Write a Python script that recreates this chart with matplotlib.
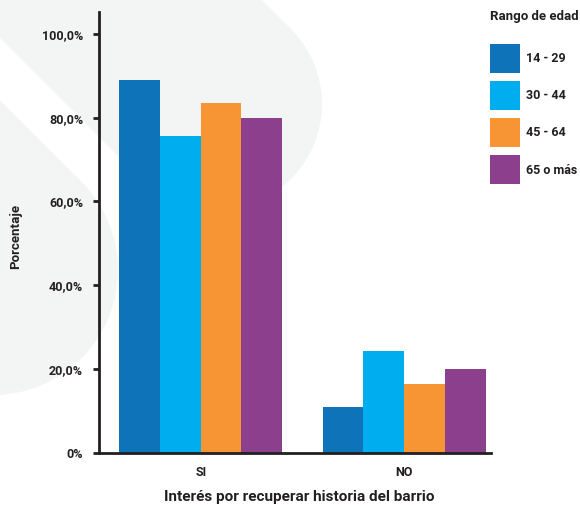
import matplotlib
matplotlib.use("Agg")
import matplotlib.pyplot as plt
import numpy as np
from matplotlib.patches import Polygon, Circle
from matplotlib.ticker import FuncFormatter

plt.rcParams['font.family'] = ['Roboto', 'DejaVu Sans']
plt.rcParams['font.weight'] = 'bold'

# datos
categorias = ["SI", "NO"]
rangos = ["14 - 29", "30 - 44", "45 - 64", "65 o más"]
v_14_29 = [89.0, 11.0]
v_30_44 = [75.7, 24.3]
v_45_64 = [83.6, 16.4]
v_65_mas = [80.0, 20.0]
colores = ["#0f73ba", "#00aeef", "#f79433", "#8b3f8c"]

series = [v_14_29, v_30_44, v_45_64, v_65_mas]
texto = "#231f20"

fig = plt.figure(figsize=(5.8, 5.05), dpi=100)

# fondo decorativo (dos bandas grises diagonales con punta redondeada)
bg = fig.add_axes([0, 0, 1, 1], zorder=-1)
bg.set_xlim(0, 580)
bg.set_ylim(505, 0)
bg.axis("off")
gris = "#f3f4f4"
d = np.array([1, 1]) / np.sqrt(2)
n = np.array([1, -1]) / np.sqrt(2)
for cx, cy, r in [(216, 104, 106), (-7, 270, 125)]:
    c = np.array([cx, cy])
    pts = [c + r * n, c - r * n, c - r * n - 600 * d, c + r * n - 600 * d]
    bg.add_patch(Polygon(pts, closed=True, color=gris, lw=0))
    bg.add_patch(Circle((cx, cy), r, color=gris, lw=0))

ax = fig.add_axes([99 / 580, 1 - 453 / 505, 392 / 580, 441 / 505])
ax.set_facecolor("none")

x = np.arange(len(categorias))
ancho = 0.2
barras = []
for i, vals in enumerate(series):
    b = ax.bar(x + (i - 1.5) * ancho, vals, ancho, color=colores[i],
               label=rangos[i], linewidth=0)
    barras.append(b)

ax.set_xlim(-0.5, 1.427)
ax.set_ylim(0, 105.2)
ax.set_yticks([0, 20, 40, 60, 80, 100])
ax.yaxis.set_major_formatter(FuncFormatter(
    lambda v, p: "0%" if v == 0 else f"{v:.1f}%".replace(".", ",")))
ax.set_xticks(x)
ax.set_xticklabels(categorias)

for s in ["top", "right"]:
    ax.spines[s].set_visible(False)
for s in ["left", "bottom"]:
    ax.spines[s].set_linewidth(2)
    ax.spines[s].set_color(texto)

ax.tick_params(axis="y", length=4.5, width=2, color=texto, pad=7,
               labelsize=9, labelcolor=texto)
ax.tick_params(axis="x", length=0, pad=9, labelsize=9, labelcolor=texto)

ax.set_ylabel("Porcentaje", fontsize=9.5, color=texto, fontweight="bold")
ax.yaxis.set_label_coords(-0.197, 0.49)
ax.set_xlabel("Interés por recuperar historia del barrio", fontsize=11,
              color=texto, fontweight="bold")
ax.xaxis.set_label_coords(0.51, -0.1)
ax.xaxis.label.set_va("center")

leg = fig.legend(handles=barras, labels=rangos, title="Rango de edad",
                 loc="upper left", bbox_to_anchor=(490 / 580, 1 - 10 / 505),
                 frameon=False, fontsize=9, title_fontsize=9.5,
                 handlelength=2.4, handleheight=3.2, labelspacing=0.65,
                 handletextpad=0.45, borderpad=0, borderaxespad=0,
                 alignment="left")
leg._legend_box.sep = 15
leg.get_title().set_color(texto)
leg.get_title().set_fontweight("bold")
for t in leg.get_texts():
    t.set_color(texto)

fig.savefig("out.png", dpi=100)
